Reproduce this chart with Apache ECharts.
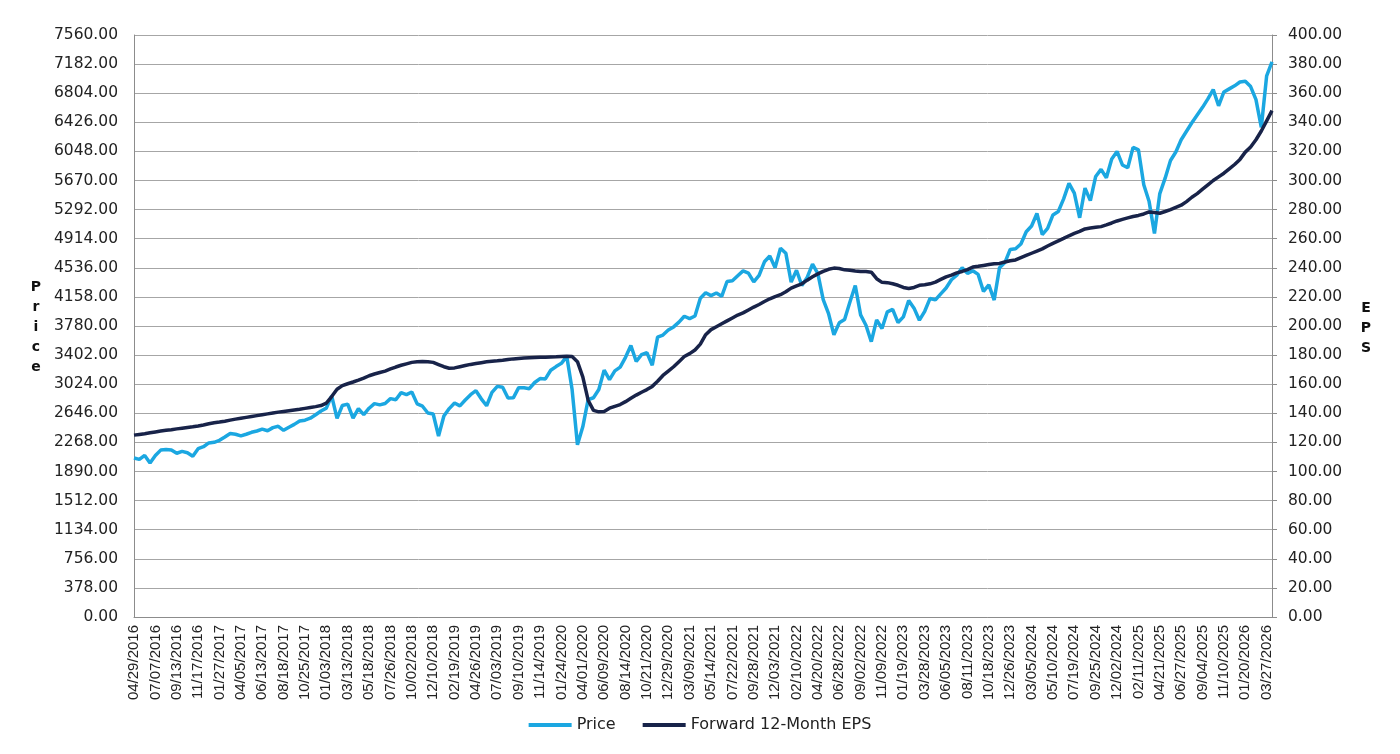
<!DOCTYPE html>
<html>
<head>
<meta charset="utf-8">
<title>Price vs Forward 12-Month EPS</title>
<script src="https://cdn.jsdelivr.net/npm/echarts@6.0.0/dist/echarts.min.js"></script>
<style>
    html, body { margin: 0; padding: 0; background: #fff; }
    #chart { width: 1400px; height: 754px; }
</style>
</head>
<body>
<div id="chart"></div>
<script>
// dates on the category axis (label every 4th point)
var dates = [
    "04/29/2016", "05/17/2016", "06/03/2016", "06/27/2016", "07/07/2016", "07/25/2016", "08/10/2016", "08/26/2016",
    "09/13/2016", "09/29/2016", "10/14/2016", "11/03/2016", "11/17/2016", "12/06/2016", "12/22/2016", "01/10/2017",
    "01/27/2017", "02/14/2017", "03/03/2017", "03/20/2017", "04/05/2017", "04/24/2017", "05/10/2017", "05/26/2017",
    "06/13/2017", "06/29/2017", "07/18/2017", "08/03/2017", "08/18/2017", "09/06/2017", "09/22/2017", "10/09/2017",
    "10/25/2017", "11/10/2017", "11/29/2017", "12/15/2017", "01/03/2018", "01/26/2018", "02/08/2018", "02/23/2018",
    "03/13/2018", "04/02/2018", "04/17/2018", "05/03/2018", "05/18/2018", "06/06/2018", "06/22/2018", "07/11/2018",
    "07/26/2018", "08/13/2018", "08/29/2018", "09/17/2018", "10/02/2018", "10/18/2018", "11/05/2018", "11/21/2018",
    "12/10/2018", "12/24/2018", "01/15/2019", "02/01/2019", "02/19/2019", "03/08/2019", "03/26/2019", "04/11/2019",
    "04/26/2019", "05/14/2019", "06/03/2019", "06/18/2019", "07/03/2019", "07/22/2019", "08/05/2019", "08/23/2019",
    "09/10/2019", "09/26/2019", "10/14/2019", "10/30/2019", "11/14/2019", "12/03/2019", "12/19/2019", "01/08/2020",
    "01/24/2020", "02/19/2020", "02/28/2020", "03/23/2020", "04/01/2020", "04/20/2020", "05/06/2020", "05/22/2020",
    "06/09/2020", "06/25/2020", "07/14/2020", "07/30/2020", "08/14/2020", "09/01/2020", "09/18/2020", "10/05/2020",
    "10/21/2020", "10/30/2020", "11/24/2020", "12/11/2020", "12/29/2020", "01/15/2021", "02/03/2021", "02/19/2021",
    "03/09/2021", "03/25/2021", "04/13/2021", "04/29/2021", "05/14/2021", "06/02/2021", "06/18/2021", "07/07/2021",
    "07/22/2021", "08/09/2021", "08/25/2021", "09/13/2021", "09/28/2021", "10/14/2021", "11/01/2021", "11/17/2021",
    "12/03/2021", "12/27/2021", "01/12/2022", "01/26/2022", "02/10/2022", "03/01/2022", "03/17/2022", "04/04/2022",
    "04/20/2022", "05/06/2022", "05/24/2022", "06/16/2022", "06/28/2022", "07/15/2022", "08/02/2022", "08/16/2022",
    "09/02/2022", "09/21/2022", "10/12/2022", "10/25/2022", "11/09/2022", "11/28/2022", "12/14/2022", "01/03/2023",
    "01/19/2023", "02/06/2023", "02/23/2023", "03/13/2023", "03/28/2023", "04/14/2023", "05/02/2023", "05/18/2023",
    "06/05/2023", "06/22/2023", "07/11/2023", "07/27/2023", "08/11/2023", "08/29/2023", "09/15/2023", "10/03/2023",
    "10/18/2023", "10/27/2023", "11/21/2023", "12/08/2023", "12/26/2023", "01/12/2024", "01/31/2024", "02/16/2024",
    "03/05/2024", "03/21/2024", "04/19/2024", "04/25/2024", "05/10/2024", "05/29/2024", "06/14/2024", "07/10/2024",
    "07/19/2024", "08/05/2024", "08/22/2024", "09/06/2024", "09/25/2024", "10/11/2024", "10/31/2024", "11/14/2024",
    "12/02/2024", "12/18/2024", "01/13/2025", "01/24/2025", "02/11/2025", "03/10/2025", "04/04/2025", "04/08/2025",
    "04/21/2025", "05/08/2025", "05/27/2025", "06/11/2025", "06/27/2025", "07/16/2025", "08/01/2025", "08/19/2025",
    "09/04/2025", "09/22/2025", "10/08/2025", "10/24/2025", "11/10/2025", "11/26/2025", "12/15/2025", "01/02/2026",
    "01/20/2026", "02/05/2026", "02/23/2026", "03/11/2026", "03/27/2026", "04/13/2026"
];

// index price (left axis)
var price = [
    2065, 2047, 2099, 2001, 2097, 2168, 2175, 2169, 2127, 2151, 2133, 2088, 2187, 2212, 2261, 2269,
    2295, 2338, 2383, 2374, 2352, 2374, 2399, 2416, 2440, 2419, 2460, 2477, 2425, 2465, 2502, 2545,
    2557, 2582, 2627, 2676, 2713, 2873, 2581, 2747, 2765, 2582, 2706, 2629, 2712, 2772, 2755, 2774,
    2837, 2821, 2914, 2889, 2923, 2768, 2738, 2650, 2637, 2351, 2610, 2707, 2780, 2743, 2818, 2888,
    2940, 2834, 2744, 2918, 2996, 2985, 2844, 2847, 2979, 2977, 2966, 3046, 3097, 3093, 3205, 3253,
    3295, 3386, 2954, 2237, 2470, 2823, 2848, 2955, 3207, 3084, 3197, 3246, 3373, 3527, 3319, 3408,
    3435, 3270, 3635, 3663, 3727, 3768, 3830, 3907, 3876, 3910, 4141, 4211, 4174, 4208, 4166, 4358,
    4367, 4433, 4496, 4468, 4353, 4438, 4614, 4689, 4538, 4791, 4726, 4350, 4504, 4306, 4412, 4583,
    4459, 4123, 3941, 3666, 3821, 3863, 4091, 4305, 3924, 3790, 3577, 3859, 3748, 3964, 3996, 3825,
    3899, 4111, 4012, 3855, 3971, 4138, 4119, 4198, 4273, 4381, 4439, 4537, 4464, 4497, 4450, 4229,
    4314, 4117, 4538, 4604, 4775, 4784, 4846, 5005, 5079, 5241, 4967, 5048, 5223, 5267, 5432, 5633,
    5505, 5186, 5571, 5408, 5722, 5815, 5705, 5949, 6047, 5872, 5836, 6101, 6068, 5614, 5396, 4982,
    5500, 5700, 5930, 6040, 6200, 6310, 6420, 6520, 6620, 6730, 6850, 6640, 6820, 6860, 6900, 6950,
    6960, 6890, 6720, 6360, 7030, 7210
];

// forward 12-month EPS (right axis)
var eps = [
    125.0, 125.5, 126.0, 126.6, 127.2, 127.8, 128.3, 128.7, 129.3, 129.8, 130.3, 130.7, 131.3, 132.0, 132.8, 133.5,
    134.0, 134.6, 135.3, 136.0, 136.6, 137.2, 137.8, 138.4, 139.0, 139.6, 140.2, 140.8, 141.3, 141.8, 142.3, 142.8,
    143.4, 144.0, 144.6, 145.3, 147.0, 151.5, 156.5, 159.0, 160.3, 161.5, 162.8, 164.2, 165.8, 167.0, 168.0, 169.0,
    170.5, 171.8, 173.0, 174.0, 175.0, 175.4, 175.6, 175.5, 175.0, 173.5, 172.0, 171.0, 171.2, 172.0, 172.8, 173.6,
    174.2, 174.8, 175.4, 175.8, 176.1, 176.5, 177.0, 177.4, 177.7, 178.0, 178.2, 178.4, 178.5, 178.6, 178.7, 178.8,
    179.0, 179.2, 179.0, 175.5, 165.0, 149.0, 142.0, 141.0, 141.3, 143.5, 144.8, 146.0, 148.0, 150.3, 152.5, 154.5,
    156.3, 158.5, 162.0, 166.0, 169.0, 172.0, 175.5, 179.0, 181.0, 183.5, 187.5, 194.0, 197.5, 199.5, 201.5, 203.5,
    205.5, 207.5, 209.0, 211.0, 213.0, 214.8, 216.8, 218.7, 220.2, 221.5, 223.5, 226.0, 227.5, 229.0, 231.5, 233.8,
    235.8, 237.5, 239.0, 239.8, 239.5, 238.6, 238.3, 237.8, 237.5, 237.4, 237.0, 232.5, 230.0, 229.8, 229.0, 228.0,
    226.5, 225.8, 226.5, 228.0, 228.3, 229.0, 230.2, 232.0, 233.8, 235.0, 236.5, 237.5, 238.8, 240.5, 241.0, 241.6,
    242.2, 242.8, 243.0, 244.0, 244.8, 245.4, 247.0, 248.5, 250.0, 251.5, 253.0, 255.0, 256.8, 258.5, 260.2, 262.0,
    263.6, 265.0, 266.7, 267.3, 267.8, 268.3, 269.5, 270.8, 272.2, 273.3, 274.3, 275.3, 276.0, 277.0, 278.4, 278.0,
    277.5, 278.7, 280.0, 281.5, 283.0, 285.5, 288.5, 291.0, 294.0, 297.0, 300.0, 302.5, 305.0, 308.0, 311.0, 314.5,
    319.5, 323.0, 328.0, 334.0, 341.0, 348.0
];

var priceMax = 7560, priceStep = 378;
var epsMax = 400, epsStep = 20;

var labelFont = "DejaVu Sans";
var gridColor = "#a6a6a6";

var chart = echarts.init(document.getElementById("chart"));
var option = {
    animation: false,
    backgroundColor: "#fff",
    grid: { left: 134, right: 128, top: 35, bottom: 137 },
    legend: {
        left: "center", top: 712, icon: "rect", itemWidth: 43, itemHeight: 4, itemGap: 27,
        textStyle: { fontFamily: labelFont, fontSize: 16, color: "#222" },
        data: ["Price", "Forward 12-Month EPS"]
    },
    xAxis: {
        type: "category", boundaryGap: false, data: dates,
        axisLine: { lineStyle: { color: "#8c8c8c", width: 1 } },
        axisTick: { show: false },
        axisLabel: {
            // one label every fourth point
            interval: function (i) { return i % 4 === 0; },
            rotate: 90, margin: 8,
            fontFamily: "Liberation Sans", fontSize: 15, color: "#222"
        },
        splitLine: { show: false }
    },
    yAxis: [{
        type: "value", min: 0, max: priceMax, interval: priceStep, position: "left",
        axisLine: { show: true, lineStyle: { color: "#8c8c8c", width: 1 } },
        axisTick: { show: false },
        axisLabel: {
            margin: 16, fontFamily: labelFont, fontSize: 15.5, color: "#222",
            formatter: function (v) { return v.toFixed(2); }
        },
        splitLine: { show: true, lineStyle: { color: gridColor, width: 1 } }
    }, {
        type: "value", min: 0, max: epsMax, interval: epsStep, position: "right",
        axisLine: { show: true, lineStyle: { color: "#8c8c8c", width: 1 } },
        axisTick: { show: true, length: 5, lineStyle: { color: "#8c8c8c" } },
        axisLabel: {
            margin: 16, fontFamily: labelFont, fontSize: 15.5, color: "#222",
            formatter: function (v) { return v.toFixed(2); }
        },
        splitLine: { show: false }
    }],
    graphic: [{
        type: "text", x: 36, y: 327,
        style: {
            text: "P\nr\ni\nc\ne", fontFamily: labelFont, fontSize: 14, fontWeight: "bold",
            lineHeight: 20, align: "center", verticalAlign: "middle", fill: "#111"
        }
    }, {
        type: "text", x: 1366, y: 328,
        style: {
            text: "E\nP\nS", fontFamily: labelFont, fontSize: 14, fontWeight: "bold",
            lineHeight: 20, align: "center", verticalAlign: "middle", fill: "#111"
        }
    }],
    series: [{
        name: "Price", type: "line", yAxisIndex: 0, data: price,
        symbol: "none", color: "#1ba7e1",
        lineStyle: { color: "#1ba7e1", width: 3.5 }
    }, {
        name: "Forward 12-Month EPS", type: "line", yAxisIndex: 1, data: eps,
        symbol: "none", color: "#182349",
        lineStyle: { color: "#182349", width: 3.5 }
    }]
};
chart.setOption(option);
</script>
</body>
</html>
